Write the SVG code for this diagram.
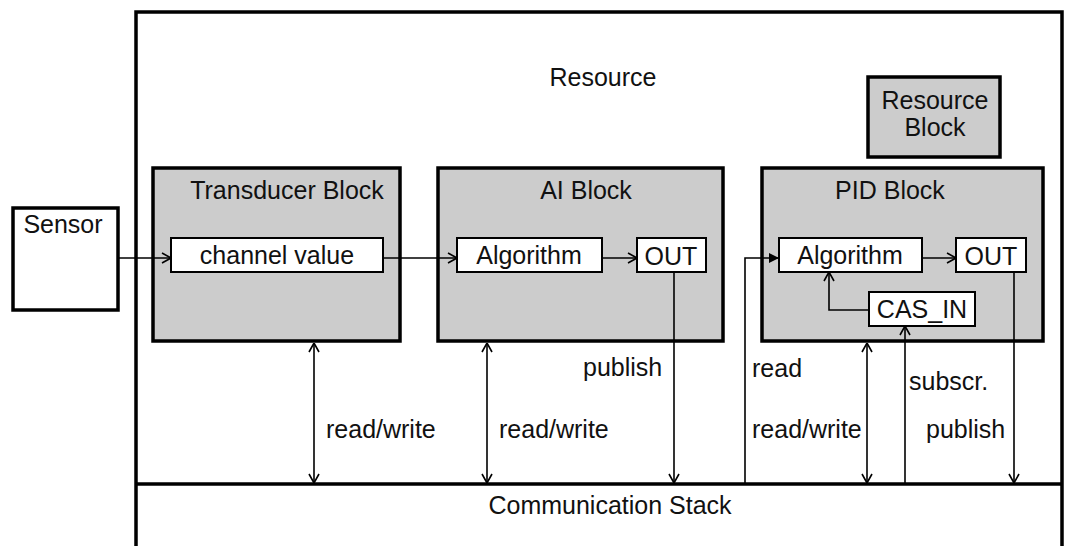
<svg xmlns="http://www.w3.org/2000/svg" width="1070" height="546" viewBox="0 0 1070 546">
<style>
text{font-family:"Liberation Sans",Arial,sans-serif;font-size:25px;fill:#111}
.blk{fill:#cccccc;stroke:#000;stroke-width:3.5}
.box{fill:#fff;stroke:#000;stroke-width:2}
.frame{fill:none;stroke:#000;stroke-width:3.5}
.c{fill:none;stroke:#000;stroke-width:1.6}
.m{text-anchor:middle}
</style>
<defs>
<marker id="oa" viewBox="0 0 10 12" refX="10" refY="6" markerWidth="10" markerHeight="12" markerUnits="userSpaceOnUse" orient="auto-start-reverse">
<path d="M1,1 L10,6 L1,11" fill="none" stroke="#000" stroke-width="1.6"/>
</marker>
<marker id="fa" viewBox="0 0 10 12" refX="10" refY="6" markerWidth="10" markerHeight="12" markerUnits="userSpaceOnUse" orient="auto">
<path d="M0,1 L10,6 L0,11 Z" fill="#000"/>
</marker>
</defs>
<g id="resource">
<path class="frame" d="M136,546 V12 H1062 V546"/>
<text x="603" y="86" class="m">Resource</text>
</g>
<g id="comm-stack">
<path class="frame" d="M136,484 H1062"/>
<text x="610" y="514" class="m">Communication Stack</text>
</g>
<g id="resource-block">
<rect class="blk" x="868" y="77" width="132" height="80"/>
<text x="935" y="109" class="m">Resource</text>
<text x="935" y="136" class="m">Block</text>
</g>
<g id="sensor">
<rect class="frame" x="13" y="208" width="105" height="102"/>
<text x="63" y="233" class="m">Sensor</text>
</g>
<g id="transducer-block">
<rect class="blk" x="153" y="168" width="247" height="173"/>
<text x="287" y="199" class="m">Transducer Block</text>
<rect class="box" x="171" y="238" width="212" height="34"/>
<text x="277" y="264" class="m">channel value</text>
</g>
<g id="ai-block">
<rect class="blk" x="438" y="168" width="285" height="173"/>
<text x="586" y="199" class="m">AI Block</text>
<rect class="box" x="457" y="238" width="145" height="34"/>
<text x="529" y="264" class="m">Algorithm</text>
<rect class="box" x="637" y="238" width="69" height="34"/>
<text x="671" y="265" class="m">OUT</text>
</g>
<g id="pid-block">
<rect class="blk" x="762" y="168" width="281" height="173"/>
<text x="890" y="199" class="m">PID Block</text>
<rect class="box" x="779" y="238" width="143" height="34"/>
<text x="850" y="264" class="m">Algorithm</text>
<rect class="box" x="956" y="238" width="70" height="34"/>
<text x="991" y="265" class="m">OUT</text>
<rect class="box" x="869" y="292" width="106" height="34"/>
<text x="922" y="318" class="m">CAS_IN</text>
</g>
<g id="connectors">
<path class="c" d="M118,258 H171" marker-end="url(#oa)"/>
<path class="c" d="M383,258 H457" marker-end="url(#oa)"/>
<path class="c" d="M602,258 H637" marker-end="url(#oa)"/>
<path class="c" d="M922,258 H956" marker-end="url(#oa)"/>
<path class="c" d="M869,310 H829 V272" marker-end="url(#oa)"/>
<path class="c" d="M745,484 V258 H779" marker-end="url(#fa)"/>
<path class="c" d="M314,343 V483" marker-start="url(#oa)" marker-end="url(#oa)"/>
<path class="c" d="M487,343 V483" marker-start="url(#oa)" marker-end="url(#oa)"/>
<path class="c" d="M867,343 V483" marker-start="url(#oa)" marker-end="url(#oa)"/>
<path class="c" d="M674,272 V483" marker-end="url(#oa)"/>
<path class="c" d="M1014,272 V483" marker-end="url(#oa)"/>
<path class="c" d="M905,484 V326" marker-end="url(#oa)"/>
</g>
<g id="labels">
<text x="326" y="438">read/write</text>
<text x="499" y="438">read/write</text>
<text x="583" y="376">publish</text>
<text x="752" y="377">read</text>
<text x="752" y="438">read/write</text>
<text x="909" y="390">subscr.</text>
<text x="926" y="438">publish</text>
</g>
</svg>
